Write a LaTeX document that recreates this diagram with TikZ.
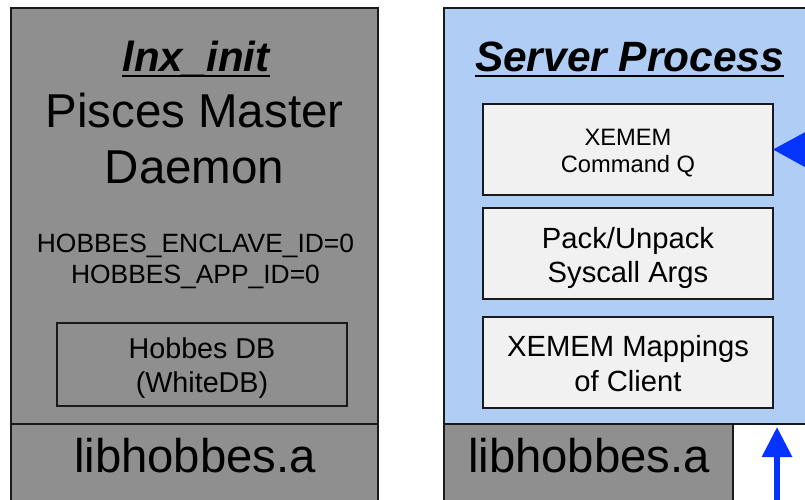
\documentclass[tikz,border=0pt]{standalone}
\usepackage{fontspec}
\setmainfont{Liberation Sans}
\usetikzlibrary{arrows.meta}
\definecolor{hgray}{HTML}{8F8F8F}
\definecolor{hblue}{HTML}{AFCDF5}
\definecolor{hlight}{HTML}{F1F1F1}
\definecolor{hline}{HTML}{1A1A1A}
\definecolor{harrow}{HTML}{0433FF}
\newcommand\fsz[1]{\fontsize{#1}{#1}\selectfont}
\tikzset{
  panel/.style={draw=hline, line width=2pt, inner sep=0pt, outer sep=0pt, anchor=north west},
  graybox/.style={panel, fill=hgray},
  bluebox/.style={panel, fill=hblue},
  subbox/.style={panel, fill=hlight, line width=1.8pt},
  txt/.style={anchor=base, inner sep=0pt, outer sep=0pt, text=black},
  uline/.style={draw=black, line width=2.6pt},
  bluearrow/.style={draw=harrow, line width=6pt},
}
\begin{document}
\begin{tikzpicture}[x=1pt,y=-1pt]
\useasboundingbox (0,0) rectangle (805,500);
\fill[white] (0,0) rectangle (805,500);
\begin{scope}
\clip (0,0) rectangle (805,500);

% Pisces master daemon process
\node[graybox, minimum width=367pt, minimum height=540pt] (lnx) at (11,8) {};
\node[graybox, minimum width=367pt, minimum height=100pt] (liblnx) at (11,424) {};
\node[panel, minimum width=290pt, minimum height=83pt] (db) at (57,323) {};

% server process
\node[bluebox, minimum width=369pt, minimum height=416pt] (srv) at (444,8) {};
\node[graybox, minimum width=289pt, minimum height=100pt] (libsrv) at (444,424) {};
\node[subbox, minimum width=290pt, minimum height=91pt] (cmdq) at (483,104) {};
\node[subbox, minimum width=290pt, minimum height=91pt] (pack) at (483,208) {};
\node[subbox, minimum width=290pt, minimum height=91pt] (maps) at (483,317) {};

% labels, left column
\node[txt] (tlnx) at (196,72) {\fsz{42}\bfseries\itshape lnx\_init};
\draw[uline] ([yshift=-4pt]tlnx.base west) -- ([yshift=-4pt]tlnx.base east);
\node[txt] (tpis1) at (194.5,128) {\fsz{47.5}Pisces Master};
\node[txt] (tpis2) at (194.5,183) {\fsz{47.5}Daemon};
\node[txt] (tenv1) at (195.5,252) {\fsz{26.4}HOBBES\_ENCLAVE\_ID=0};
\node[txt] (tenv2) at (195.5,283) {\fsz{26.4}HOBBES\_APP\_ID=0};
\node[txt] (tdb1) at (202,358) {\fsz{28.7}Hobbes DB};
\node[txt] (tdb2) at (202,392) {\fsz{28.7}(WhiteDB)};
\node[txt] (tlib1) at (195,472) {\fsz{47.3}libhobbes.a};

% labels, right column
\node[txt] (tsrv) at (629.5,72) {\fsz{42.4}\bfseries\itshape Server Process};
\draw[uline] ([yshift=-4pt]tsrv.base west) -- ([yshift=-4pt]tsrv.base east);
\node[txt] (tcq1) at (628,145) {\fsz{23.7}XEMEM};
\node[txt] (tcq2) at (628,172) {\fsz{23.7}Command Q};
\node[txt] (tpk1) at (628,248) {\fsz{29.2}Pack/Unpack};
\node[txt] (tpk2) at (628,282) {\fsz{29.2}Syscall Args};
\node[txt] (tmp1) at (628,356) {\fsz{29.2}XEMEM Mappings};
\node[txt] (tmp2) at (628,391.5) {\fsz{29.2}of Client};
\node[txt] (tlib2) at (589,472) {\fsz{47.3}libhobbes.a};

% incoming requests
\coordinate (cqfoot) at (900,150);
\draw[bluearrow, -{Triangle[length=60pt,width=64pt]}] (cqfoot) -- (cmdq.east);
\coordinate (upfoot) at (777,520);
\draw[bluearrow, -{Triangle[length=30pt,width=29pt]}, shorten >=3pt] (upfoot) -- (upfoot |- srv.south);
\end{scope}
\end{tikzpicture}
\end{document}
